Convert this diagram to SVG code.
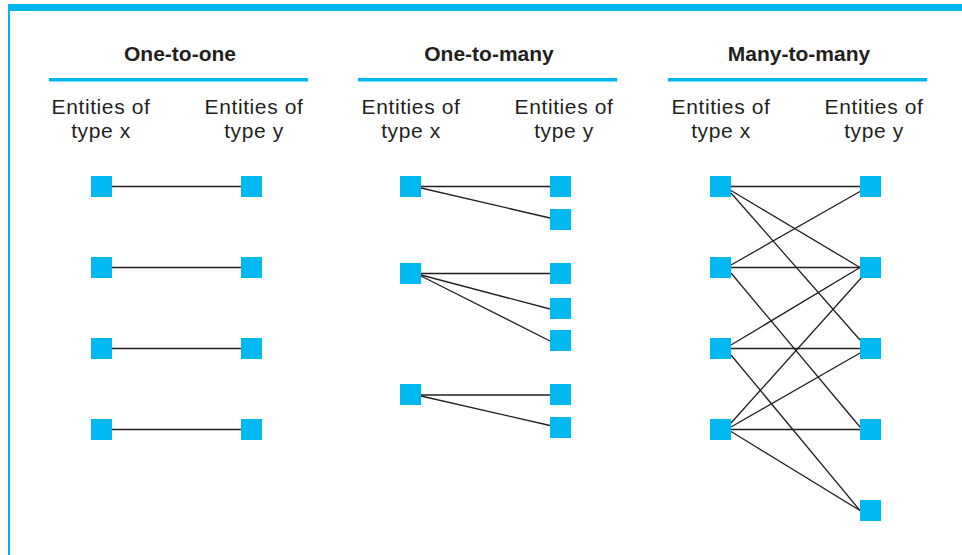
<svg xmlns="http://www.w3.org/2000/svg" width="962" height="555" viewBox="0 0 962 555">
<style>
.bg{fill:#ffffff}
.bar{fill:#00b6ef}
.sq{fill:#00b9f1}
.hd{font-family:"Liberation Sans",Arial,sans-serif;font-weight:bold;font-size:21px;fill:#231f20;text-anchor:middle}
.lb{font-family:"Liberation Sans",Arial,sans-serif;font-size:21px;letter-spacing:0.6px;fill:#231f20;text-anchor:middle}
.ln{stroke:#231f20;stroke-width:1.3;fill:none}
</style>
<rect class="bg" x="0" y="0" width="962" height="555"/>
<g id="frame">
<rect class="bar" x="8" y="4" width="954" height="7"/>
<rect class="bar" x="8" y="4" width="2" height="551"/>
</g>
<g id="panel-one-to-one">
<text class="hd" x="180" y="61">One-to-one</text>
<rect class="bar" x="49" y="78" width="259" height="3.5"/>
<text class="lb" x="101" y="114">Entities of</text>
<text class="lb" x="101" y="138">type x</text>
<text class="lb" x="254" y="114">Entities of</text>
<text class="lb" x="254" y="138">type y</text>
</g>
<g id="panel-one-to-many">
<text class="hd" x="489" y="61">One-to-many</text>
<rect class="bar" x="358" y="78" width="259" height="3.5"/>
<text class="lb" x="411" y="114">Entities of</text>
<text class="lb" x="411" y="138">type x</text>
<text class="lb" x="564" y="114">Entities of</text>
<text class="lb" x="564" y="138">type y</text>
</g>
<g id="panel-many-to-many">
<text class="hd" x="799" y="61">Many-to-many</text>
<rect class="bar" x="668" y="78" width="259" height="3.5"/>
<text class="lb" x="721" y="114">Entities of</text>
<text class="lb" x="721" y="138">type x</text>
<text class="lb" x="874" y="114">Entities of</text>
<text class="lb" x="874" y="138">type y</text>
</g>
<g id="connectors">
<line class="ln" x1="112" y1="186.5" x2="241" y2="186.5"/>
<line class="ln" x1="112" y1="267.5" x2="241" y2="267.5"/>
<line class="ln" x1="112" y1="348.5" x2="241" y2="348.5"/>
<line class="ln" x1="112" y1="429.5" x2="241" y2="429.5"/>
<line class="ln" x1="421" y1="186.5" x2="550" y2="186.5"/>
<line class="ln" x1="421" y1="188" x2="550" y2="218"/>
<line class="ln" x1="421" y1="273.5" x2="550" y2="273.5"/>
<line class="ln" x1="421" y1="275" x2="550" y2="309"/>
<line class="ln" x1="421" y1="276" x2="550" y2="341"/>
<line class="ln" x1="421" y1="395" x2="550" y2="395"/>
<line class="ln" x1="421" y1="396" x2="550" y2="425.5"/>
<line class="ln" x1="731" y1="186.5" x2="860" y2="186.5"/>
<line class="ln" x1="731" y1="190.5" x2="860" y2="267.5"/>
<line class="ln" x1="731" y1="193" x2="860" y2="340"/>
<line class="ln" x1="731" y1="265" x2="860" y2="191.5"/>
<line class="ln" x1="731" y1="267.5" x2="860" y2="267.5"/>
<line class="ln" x1="731" y1="273" x2="860" y2="427"/>
<line class="ln" x1="731" y1="345" x2="860" y2="267.5"/>
<line class="ln" x1="731" y1="348.5" x2="860" y2="348.5"/>
<line class="ln" x1="731" y1="355" x2="860" y2="510.5"/>
<line class="ln" x1="731" y1="423" x2="862" y2="277"/>
<line class="ln" x1="731" y1="427" x2="860" y2="353"/>
<line class="ln" x1="731" y1="429.5" x2="860" y2="429.5"/>
<line class="ln" x1="731" y1="431.5" x2="860" y2="510.5"/>
</g>
<g id="n1-x1"><rect class="sq" x="91" y="176" width="21" height="21"/></g>
<g id="n1-x2"><rect class="sq" x="91" y="257" width="21" height="21"/></g>
<g id="n1-x3"><rect class="sq" x="91" y="338" width="21" height="21"/></g>
<g id="n1-x4"><rect class="sq" x="91" y="419" width="21" height="21"/></g>
<g id="n1-y1"><rect class="sq" x="241" y="176" width="21" height="21"/></g>
<g id="n1-y2"><rect class="sq" x="241" y="257" width="21" height="21"/></g>
<g id="n1-y3"><rect class="sq" x="241" y="338" width="21" height="21"/></g>
<g id="n1-y4"><rect class="sq" x="241" y="419" width="21" height="21"/></g>
<g id="n2-x1"><rect class="sq" x="400" y="176" width="21" height="21"/></g>
<g id="n2-x2"><rect class="sq" x="400" y="263" width="21" height="21"/></g>
<g id="n2-x3"><rect class="sq" x="400" y="384" width="21" height="21"/></g>
<g id="n2-y1"><rect class="sq" x="550" y="176" width="21" height="21"/></g>
<g id="n2-y2"><rect class="sq" x="550" y="209" width="21" height="21"/></g>
<g id="n2-y3"><rect class="sq" x="550" y="263" width="21" height="21"/></g>
<g id="n2-y4"><rect class="sq" x="550" y="298" width="21" height="21"/></g>
<g id="n2-y5"><rect class="sq" x="550" y="330" width="21" height="21"/></g>
<g id="n2-y6"><rect class="sq" x="550" y="384" width="21" height="21"/></g>
<g id="n2-y7"><rect class="sq" x="550" y="417" width="21" height="21"/></g>
<g id="n3-x1"><rect class="sq" x="710" y="176" width="21" height="21"/></g>
<g id="n3-x2"><rect class="sq" x="710" y="257" width="21" height="21"/></g>
<g id="n3-x3"><rect class="sq" x="710" y="338" width="21" height="21"/></g>
<g id="n3-x4"><rect class="sq" x="710" y="419" width="21" height="21"/></g>
<g id="n3-y1"><rect class="sq" x="860" y="176" width="21" height="21"/></g>
<g id="n3-y2"><rect class="sq" x="860" y="257" width="21" height="21"/></g>
<g id="n3-y3"><rect class="sq" x="860" y="338" width="21" height="21"/></g>
<g id="n3-y4"><rect class="sq" x="860" y="419" width="21" height="21"/></g>
<g id="n3-y5"><rect class="sq" x="860" y="500" width="21" height="21"/></g>
</svg>
